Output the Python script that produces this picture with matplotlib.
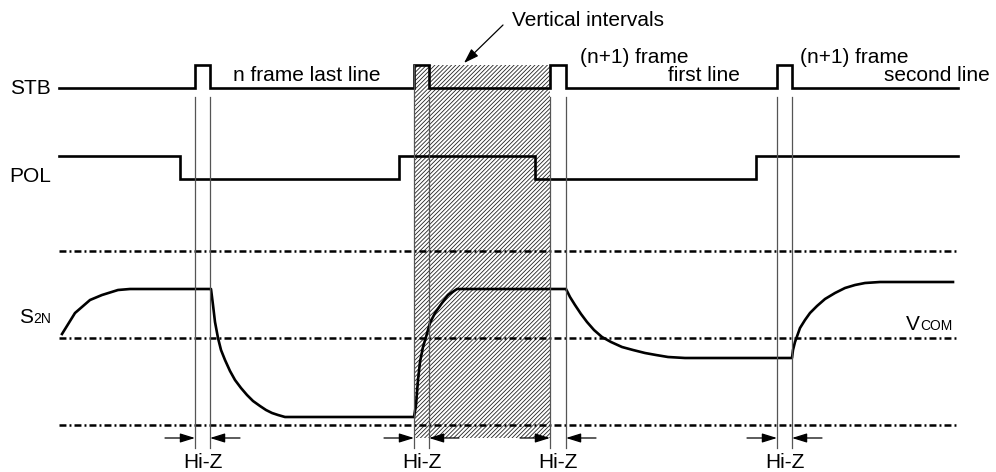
import matplotlib
matplotlib.use('Agg')
import matplotlib.pyplot as plt

plt.rcParams['font.family'] = ['Liberation Sans', 'DejaVu Sans']
plt.rcParams['hatch.linewidth'] = 0.6
plt.rcParams['lines.scale_dashes'] = False

# Time axis (horizontal units) and signal levels (vertical units, top = 0)
x_start, x_end = 59, 958
stb_low, stb_high = 88, 65
stb_pulses = [(195, 210), (414, 429), (550, 566), (777, 792)]

pol_high, pol_low = 156, 179
pol_edges = [180, 399, 535, 756]

ref_levels = [251, 338, 425]  # upper, VCOM, lower

# S2N waveform
s2n_x = [62, 75, 90, 102, 118, 130, 211,
         212, 213, 215, 218, 221, 225, 230, 235, 241, 247, 253, 260, 266, 272, 278, 285, 414,
         415, 416, 418, 420, 423, 426, 430, 435, 442, 448, 457, 566,
         570, 575, 581, 587, 594, 602, 611, 622, 633, 645, 656, 668, 685, 705, 792,
         793, 795, 800, 805, 810, 817, 825, 835, 845, 855, 865, 880, 953]
s2n_y = [334, 313, 300, 295, 290, 289, 289,
         297, 305, 322, 338, 350, 360, 371, 380, 388, 395, 401, 406, 410, 413, 415, 417, 417,
         411, 405, 380, 362, 347, 337, 323, 313, 303, 295, 289, 289,
         297, 305, 314, 322, 330, 337, 342, 347, 350, 353, 355, 357, 358, 358, 358,
         350, 342, 328, 320, 313, 306, 299, 293, 288, 285, 283, 282, 282]

vblank = (414, 550)  # vertical interval
hatch_top, hatch_bottom = 65, 438
vline_top, vline_bottom = 97, 448
arrow_y = 438
hiz_label_y = 462

fig = plt.figure(figsize=(9.96, 4.72), dpi=100)
ax = fig.add_axes([0, 0, 1, 1])
ax.set_xlim(0, 996)
ax.set_ylim(472, 0)
ax.axis('off')

# hatched vertical interval
ax.fill_between([vblank[0], vblank[1]], hatch_top, hatch_bottom,
                facecolor='none', edgecolor='#222222', hatch='////////', linewidth=0)

# STB
sx, sy = [x_start], [stb_low]
for a, b in stb_pulses:
    sx += [a, a, b, b]
    sy += [stb_low, stb_high, stb_high, stb_low]
sx.append(x_end)
sy.append(stb_low)
ax.plot(sx, sy, color='black', lw=1.9, solid_joinstyle='miter')

# POL
px, py = [x_start], [pol_high]
level = pol_high
for e in pol_edges:
    nxt = pol_low if level == pol_high else pol_high
    px += [e, e]
    py += [level, nxt]
    level = nxt
px.append(x_end)
py.append(level)
ax.plot(px, py, color='black', lw=1.9, solid_joinstyle='miter')

# reference dash-dot lines
for yl in ref_levels:
    ax.plot([x_start, x_end], [yl, yl], color='black', lw=1.8,
            linestyle=(0, (5, 2.2, 1.4, 2.2)))

# S2N
ax.plot(s2n_x, s2n_y, color='black', lw=1.9, solid_joinstyle='round')

# thin vertical lines and Hi-Z arrows
astyle = '-|>,head_length=0.9,head_width=0.28'
for a, b in stb_pulses:
    top_a = hatch_top if a == vblank[0] else vline_top
    top_b = hatch_top if b == vblank[1] else vline_top
    ax.plot([a, a], [top_a, vline_bottom], color='#555555', lw=0.9)
    ax.plot([b, b], [top_b, vline_bottom], color='#555555', lw=0.9)
    ax.annotate('', xy=(a, arrow_y), xytext=(a - 30, arrow_y),
                arrowprops=dict(arrowstyle=astyle, color='black', lw=0.9,
                                shrinkA=0, shrinkB=0))
    ax.annotate('', xy=(b, arrow_y), xytext=(b + 30, arrow_y),
                arrowprops=dict(arrowstyle=astyle, color='black', lw=0.9,
                                shrinkA=0, shrinkB=0))
    ax.text((a + b) / 2, hiz_label_y, 'Hi-Z', ha='center', va='center', fontsize=15)

# labels
fs = 15
ax.text(51, stb_low, 'STB', ha='right', va='center', fontsize=fs)
ax.text(51, 177, 'POL', ha='right', va='center', fontsize=fs)
ax.text(33, 323, 'S', ha='right', va='baseline', fontsize=fs)
ax.text(33, 323, '2N', ha='left', va='baseline', fontsize=10)
ax.text(920, 330, 'V', ha='right', va='baseline', fontsize=fs)
ax.text(920, 330, 'COM', ha='left', va='baseline', fontsize=10)

ax.text(233, 81, 'n frame last line', ha='left', va='baseline', fontsize=fs)
ax.text(580, 63, '(n+1) frame', ha='left', va='baseline', fontsize=fs)
ax.text(740, 81, 'first line', ha='right', va='baseline', fontsize=fs)
ax.text(800, 63, '(n+1) frame', ha='left', va='baseline', fontsize=fs)
ax.text(990, 81, 'second line', ha='right', va='baseline', fontsize=fs)
ax.text(512, 26, 'Vertical intervals', ha='left', va='baseline', fontsize=fs)

ax.annotate('', xy=(464, 63), xytext=(503, 25),
            arrowprops=dict(arrowstyle='-|>,head_length=0.9,head_width=0.3',
                            color='black', lw=0.9, shrinkA=0, shrinkB=0))

fig.savefig('out.png', dpi=100)
